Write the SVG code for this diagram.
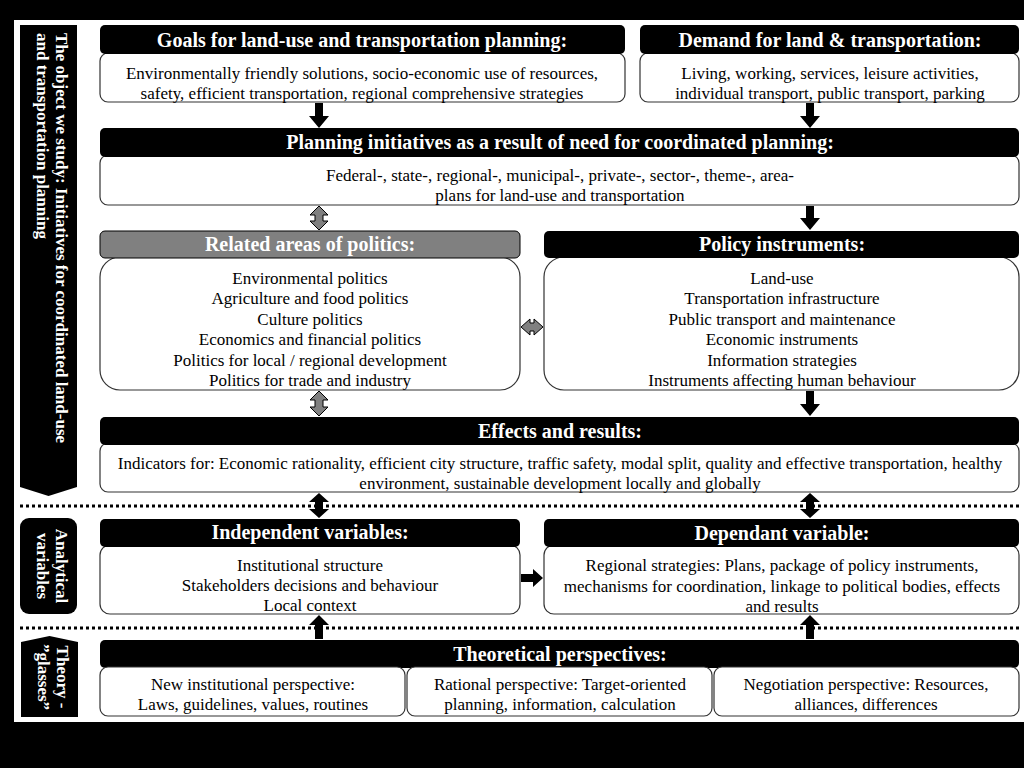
<svg xmlns="http://www.w3.org/2000/svg" width="1024" height="768" viewBox="0 0 1024 768">
<style>
.hd{fill:#000;}
.hg{fill:#808080;stroke:#000;stroke-width:1;}
.bd{fill:#fff;stroke:#333;stroke-width:1.2;}
.ht{font-family:"Liberation Serif",serif;font-weight:bold;font-size:20px;fill:#fff;text-anchor:middle;}
.bt{font-family:"Liberation Serif",serif;font-size:17px;fill:#000;text-anchor:middle;}
.st{font-family:"Liberation Serif",serif;font-weight:bold;font-size:17px;fill:#fff;}
.ab{fill:#000;}
.ag{fill:#808080;stroke:#000;stroke-width:1;}
.dot{stroke:#000;stroke-width:3;stroke-dasharray:3,3;fill:none;}
</style>
<rect x="0" y="0" width="1024" height="768" fill="#000"/>
<rect x="14" y="20" width="1010" height="702" fill="#fff"/>

<g id="side-object">
<path d="M20,25 H77 V487 L48.5,496 L20,487 Z" fill="#000"/>
<text class="st" transform="translate(56,33) rotate(90)">The object we study:  Initiatives for coordinated land-use</text>
<text class="st" transform="translate(37,33) rotate(90)">and transportation planning</text>
</g>
<g id="side-analytical">
<rect x="20" y="518" width="57" height="96" rx="9" fill="#000"/>
<text class="st" text-anchor="middle" transform="translate(56,566) rotate(90)">Analytical</text>
<text class="st" text-anchor="middle" transform="translate(37,566) rotate(90)">variables</text>
</g>
<g id="side-theory">
<path d="M21,642 L49.5,636 L78,642 V717 H21 Z" fill="#000"/>
<text class="st" text-anchor="middle" transform="translate(57,677) rotate(90)">Theory -</text>
<text class="st" text-anchor="middle" transform="translate(38,677) rotate(90)">”glasses”</text>
</g>

<g id="separators">
<line class="dot" x1="20" y1="506" x2="1020" y2="506"/>
<line class="dot" x1="20" y1="628" x2="1020" y2="628"/>
</g>

<g id="goals">
<rect class="bd" x="100" y="53" width="525" height="49" rx="8"/>
<rect class="hd" x="100" y="25" width="525" height="29" rx="5"/>
<text class="ht" x="362" y="47">Goals for land-use and transportation planning:</text>
<text class="bt" x="362" y="79">Environmentally friendly solutions, socio-economic use of resources,</text>
<text class="bt" x="362" y="99">safety, efficient transportation, regional comprehensive strategies</text>
</g>
<g id="demand">
<rect class="bd" x="640" y="53" width="379" height="49" rx="8"/>
<rect class="hd" x="640" y="25" width="379" height="29" rx="5"/>
<text class="ht" x="830" y="47">Demand for land &amp; transportation:</text>
<text class="bt" x="830" y="79">Living, working, services, leisure activities,</text>
<text class="bt" x="830" y="99">individual transport, public transport, parking</text>
</g>
<g id="planning">
<rect class="bd" x="100" y="155" width="919" height="50" rx="8"/>
<rect class="hd" x="100" y="128" width="919" height="29" rx="5"/>
<text class="ht" x="560" y="149">Planning initiatives as a result of need for coordinated planning:</text>
<text class="bt" x="560" y="181">Federal-, state-, regional-, municipal-, private-, sector-, theme-, area-</text>
<text class="bt" x="560" y="201">plans for land-use and transportation</text>
</g>
<g id="related">
<rect class="bd" x="100" y="257" width="420" height="133" rx="20"/>
<rect class="hg" x="100" y="231" width="420" height="27" rx="5"/>
<text class="ht" x="310" y="251">Related areas of politics:</text>
<text class="bt" x="310" y="284">Environmental politics</text>
<text class="bt" x="310" y="304">Agriculture and food politics</text>
<text class="bt" x="310" y="325">Culture politics</text>
<text class="bt" x="310" y="345">Economics and financial politics</text>
<text class="bt" x="310" y="366">Politics for local / regional development</text>
<text class="bt" x="310" y="386">Politics for trade and industry</text>
</g>
<g id="policy">
<rect class="bd" x="544" y="257" width="475" height="133" rx="20"/>
<rect class="hd" x="544" y="231" width="475" height="27" rx="5"/>
<text class="ht" x="782" y="251">Policy instruments:</text>
<text class="bt" x="782" y="284">Land-use</text>
<text class="bt" x="782" y="304">Transportation infrastructure</text>
<text class="bt" x="782" y="325">Public transport and maintenance</text>
<text class="bt" x="782" y="345">Economic instruments</text>
<text class="bt" x="782" y="366">Information strategies</text>
<text class="bt" x="782" y="386">Instruments affecting human behaviour</text>
</g>
<g id="effects">
<rect class="bd" x="100" y="443" width="919" height="49" rx="8"/>
<rect class="hd" x="100" y="417" width="919" height="28" rx="5"/>
<text class="ht" x="560" y="438">Effects and results:</text>
<text class="bt" x="560" y="469">Indicators for: Economic rationality, efficient city structure, traffic safety, modal split, quality and effective transportation, healthy</text>
<text class="bt" x="560" y="489">environment, sustainable development locally and globally</text>
</g>
<g id="independent">
<rect class="bd" x="100" y="545" width="420" height="69" rx="10"/>
<rect class="hd" x="100" y="519" width="420" height="28" rx="5"/>
<text class="ht" x="310" y="539">Independent variables:</text>
<text class="bt" x="310" y="571">Institutional structure</text>
<text class="bt" x="310" y="591">Stakeholders decisions and behaviour</text>
<text class="bt" x="310" y="611">Local context</text>
</g>
<g id="dependent">
<rect class="bd" x="544" y="545" width="475" height="69" rx="10"/>
<rect class="hd" x="544" y="519" width="475" height="28" rx="5"/>
<text class="ht" x="782" y="540">Dependant variable:</text>
<text class="bt" x="782" y="571">Regional strategies: Plans, package of policy instruments,</text>
<text class="bt" x="782" y="592">mechanisms for coordination, linkage to political bodies, effects</text>
<text class="bt" x="782" y="612">and results</text>
</g>
<g id="theoretical">
<rect class="hd" x="100" y="640" width="919" height="28" rx="5"/>
<text class="ht" x="560" y="661">Theoretical perspectives:</text>
</g>
<g id="new-institutional">
<rect class="bd" x="100" y="667" width="305" height="49" rx="8"/>
<text class="bt" x="253" y="690">New institutional perspective:</text>
<text class="bt" x="253" y="710">Laws, guidelines, values, routines</text>
</g>
<g id="rational">
<rect class="bd" x="407" y="667" width="305" height="49" rx="8"/>
<text class="bt" x="560" y="690">Rational perspective: Target-oriented</text>
<text class="bt" x="560" y="710">planning, information, calculation</text>
</g>
<g id="negotiation">
<rect class="bd" x="714" y="667" width="305" height="49" rx="8"/>
<text class="bt" x="866" y="690">Negotiation perspective: Resources,</text>
<text class="bt" x="866" y="710">alliances, differences</text>
</g>

<g id="connectors">
<path class="ab" d="M315,103 H323 V116 H329 L319,128 L309,116 H315 Z"/>
<path class="ab" d="M806,103 H814 V116 H820 L810,128 L800,116 H806 Z"/>
<path class="ag" d="M319,206 L328,215 H323 V221 H328 L319,230 L310,221 H315 V215 H310 Z"/>
<path class="ab" d="M806,206 H814 V218 H820 L810,230 L800,218 H806 Z"/>
<path class="ag" d="M521,327 L530,319 V323 H534 V319 L543,327 L534,335 V331 H530 V335 Z"/>
<path class="ag" d="M319,391 L328,400 H323 V407 H328 L319,416 L310,407 H315 V400 H310 Z"/>
<path class="ab" d="M806,391 H814 V404 H820 L810,416 L800,404 H806 Z"/>
<path class="ab" d="M319,493 L329,502 H323 V509 H329 L319,518 L309,509 H315 V502 H309 Z"/>
<path class="ab" d="M810,493 L820,502 H814 V509 H820 L810,518 L800,509 H806 V502 H800 Z"/>
<path class="ab" d="M521,574 H533 V569 L543,578 L533,587 V582 H521 Z"/>
<path class="ab" d="M319,615 L329,625 H323 V639 H315 V625 H309 Z"/>
<path class="ab" d="M810,615 L820,625 H814 V639 H806 V625 H800 Z"/>
</g>
</svg>
